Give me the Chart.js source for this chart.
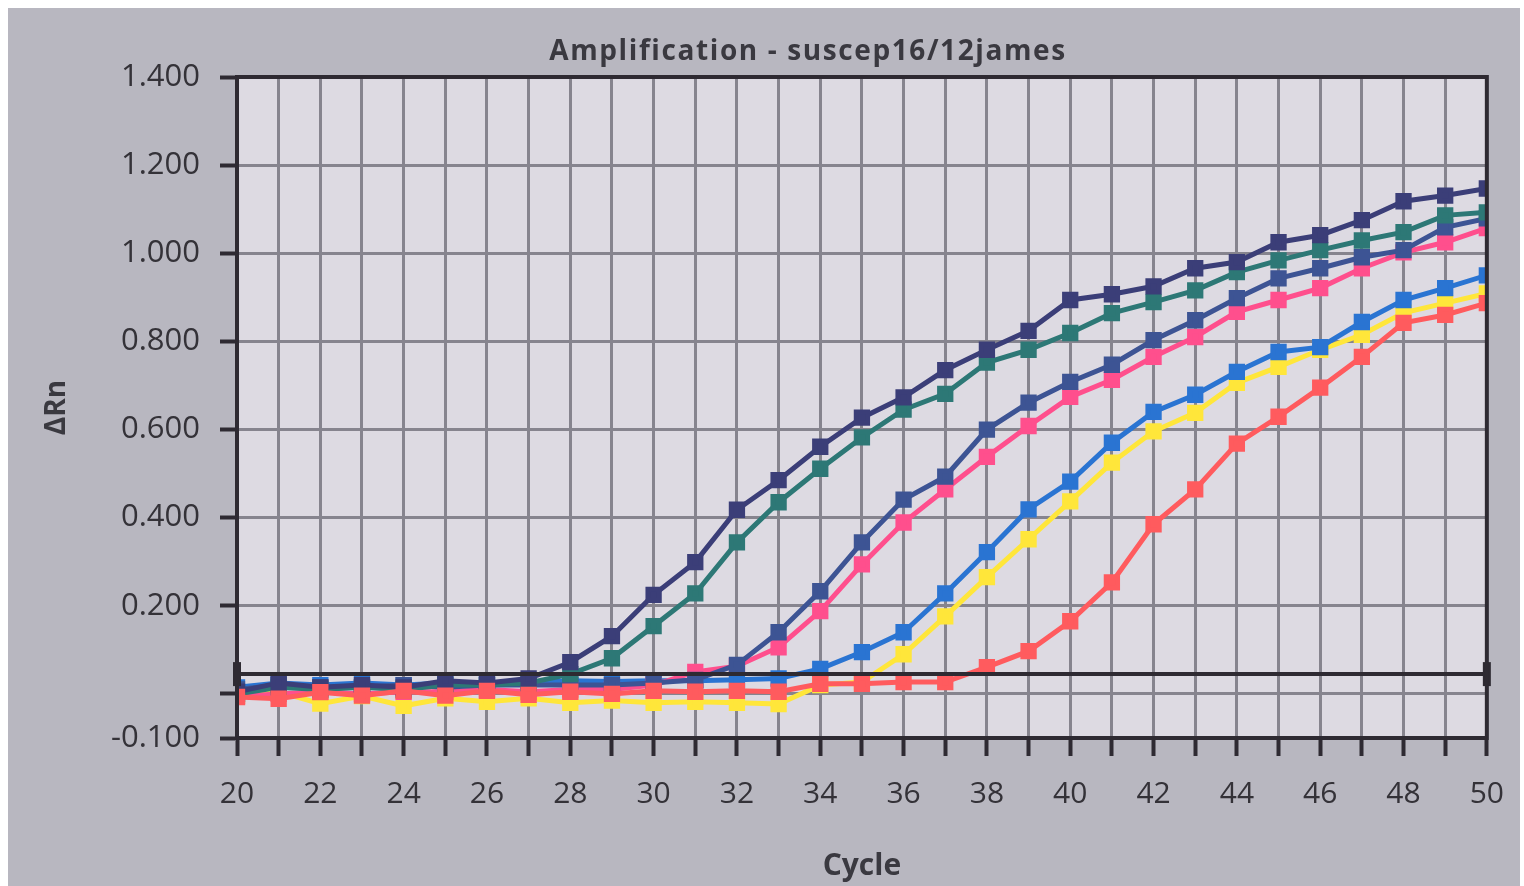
<!DOCTYPE html>
<html>
<head>
<meta charset="utf-8">
<script src="https://cdn.jsdelivr.net/npm/chart.js@4.4.1/dist/chart.umd.min.js"></script>
<style>
  html, body { margin:0; padding:0; background:#ffffff; }
  #panel { position:absolute; left:8px; top:8px; width:1512px; height:878px; background:#b8b7c0; }
  #wrap { position:absolute; left:0; top:0; width:1524px; height:886px; }
</style>
</head>
<body>
<div id="panel"></div>
<div id="wrap"><canvas id="grafico" width="1524" height="886"></canvas></div>
<script>
// ======= Dados =======
const cycles = [20,21,22,23,24,25,26,27,28,29,30,31,32,33,34,35,36,37,38,39,40,41,42,43,44,45,46,47,48,49,50];

const navy   = [0.005,0.025,0.015,0.020,0.015,0.030,0.025,0.035,0.072,0.131,0.225,0.299,0.418,0.485,0.561,0.627,0.673,0.735,0.781,0.824,0.894,0.907,0.925,0.966,0.980,1.025,1.041,1.075,1.118,1.131,1.147];
const teal   = [0.000,0.015,0.010,0.015,0.010,0.020,0.020,0.025,0.045,0.081,0.154,0.228,0.344,0.435,0.511,0.582,0.645,0.681,0.752,0.781,0.819,0.864,0.889,0.916,0.957,0.984,1.007,1.029,1.048,1.086,1.093];
const slate  = [0.010,0.020,0.015,0.015,0.020,0.015,0.020,0.020,0.020,0.020,0.025,0.032,0.066,0.140,0.233,0.344,0.441,0.493,0.600,0.661,0.708,0.747,0.803,0.848,0.898,0.943,0.966,0.991,1.007,1.059,1.079];
const pink   = [-0.005,0.000,0.005,0.000,0.005,0.005,0.010,0.005,0.010,0.010,0.020,0.050,0.063,0.106,0.188,0.294,0.389,0.464,0.538,0.608,0.674,0.713,0.765,0.810,0.867,0.894,0.921,0.966,1.002,1.025,1.057];
const blue   = [0.015,0.025,0.020,0.025,0.020,0.025,0.025,0.025,0.030,0.028,0.030,0.030,0.032,0.035,0.057,0.095,0.140,0.228,0.322,0.419,0.482,0.570,0.640,0.679,0.731,0.776,0.787,0.844,0.894,0.921,0.950];
const yellow = [-0.005,0.005,-0.022,-0.005,-0.027,-0.010,-0.018,-0.010,-0.020,-0.015,-0.020,-0.018,-0.020,-0.023,0.020,0.027,0.090,0.176,0.265,0.351,0.437,0.525,0.596,0.638,0.706,0.742,0.781,0.815,0.865,0.887,0.909];
const red    = [-0.007,-0.011,0.004,-0.004,0.007,-0.004,0.007,-0.002,0.005,0.000,0.007,0.005,0.007,0.005,0.023,0.023,0.027,0.027,0.061,0.097,0.165,0.253,0.385,0.464,0.568,0.629,0.695,0.765,0.842,0.860,0.887];

const threshold = 0.045;
const yLabels = [1.4, 1.2, 1.0, 0.8, 0.6, 0.4, 0.2, -0.1];
const titulo = 'Amplification - suscep16/12james';

// ======= Helpers =======
const pts = arr => cycles.map((c, i) => ({ x: c, y: arr[i] }));

function serie(nome, dados, cor, ordem) {
  return {
    label: nome,
    data: pts(dados),
    borderColor: cor,
    backgroundColor: cor,
    borderWidth: 5,
    pointStyle: 'rect',
    pointRadius: 8,
    pointHoverRadius: 8,
    tension: 0,
    clip: 0,
    order: ordem
  };
}

const fonte = "'Open Sans', 'DejaVu Sans', sans-serif";

// fundo da área do gráfico, moldura e título
const moldura = {
  id: 'moldura',
  beforeDraw(chart) {
    const a = chart.chartArea, ctx = chart.ctx;
    ctx.save();
    ctx.fillStyle = '#dddae2';
    ctx.fillRect(a.left, a.top, a.right - a.left, a.bottom - a.top);
    ctx.restore();
  },
  afterDatasetsDraw(chart) {
    const a = chart.chartArea, ctx = chart.ctx;
    ctx.save();
    ctx.strokeStyle = '#2e2a32';
    ctx.lineWidth = 4;
    ctx.strokeRect(a.left, a.top, a.right - a.left, a.bottom - a.top);
    ctx.restore();
  },
  afterDraw(chart) {
    const ctx = chart.ctx;
    ctx.save();
    ctx.font = "bold 28px " + fonte;
    ctx.fillStyle = '#3a3940';
    ctx.letterSpacing = '1.6px';
    ctx.textAlign = 'center';
    ctx.textBaseline = 'middle';
    ctx.fillText(titulo, 808, 52);
    ctx.restore();
  }
};

new Chart(document.getElementById('grafico'), {
  type: 'line',
  data: {
    datasets: [
      serie('Navy', navy, '#3b3e78', 3),
      serie('Teal', teal, '#2d7876', 4),
      serie('Slate', slate, '#3d5494', 5),
      serie('Pink', pink, '#ff4f8d', 6),
      serie('Blue', blue, '#2a74d2', 7),
      serie('Yellow', yellow, '#ffe63a', 8),
      serie('Red', red, '#ff5b5e', 2),
      {
        label: 'Threshold',
        data: [{ x: cycles[0], y: threshold }, { x: cycles[cycles.length - 1], y: threshold }],
        borderColor: '#2e2a32',
        backgroundColor: '#2e2a32',
        borderWidth: 4,
        pointStyle: 'line',
        rotation: 90,
        pointRadius: 12,
        pointBorderWidth: 8,
        clip: false,
        order: 1
      }
    ]
  },
  options: {
    responsive: false,
    animation: false,
    events: [],
    layout: { padding: { left: 8, right: 34, top: 77, bottom: 0 } },
    plugins: {
      legend: { display: false },
      tooltip: { enabled: false },
      title: { display: false }
    },
    scales: {
      x: {
        type: 'linear',
        min: 20, max: 50,
        afterFit(scale) { scale.height = 148; },
        ticks: {
          stepSize: 1,
          color: '#343238',
          padding: 20,
          font: { family: fonte, size: 30 },
          maxRotation: 0,
          autoSkip: false,
          callback: v => (v % 2 === 0 ? String(v) : '')
        },
        grid: {
          color: '#86848e',
          lineWidth: 3,
          tickLength: 18,
          tickColor: '#2e2a32',
          tickWidth: 4
        },
        border: { display: true, color: '#2e2a32', width: 4 },
        title: {
          display: true,
          text: 'Cycle',
          color: '#3a3940',
          font: { family: fonte, size: 30, weight: 'bold' },
          padding: { top: 0, bottom: 2 }
        }
      },
      y: {
        min: -0.1, max: 1.4,
        afterFit(scale) { scale.width = 229; },
        afterBuildTicks(scale) {
          const t = [-0.1];
          for (let v = 0; v <= 1.4001; v += 0.2) t.push(Math.round(v * 10) / 10);
          scale.ticks = t.map(v => ({ value: v }));
        },
        ticks: {
          color: '#343238',
          padding: 20,
          font: { family: fonte, size: 31 },
          callback: v => (yLabels.some(l => Math.abs(l - v) < 1e-6) ? v.toFixed(3) : '')
        },
        grid: {
          color: '#86848e',
          lineWidth: 3,
          tickLength: 17,
          tickColor: '#2e2a32',
          tickWidth: 4
        },
        border: { display: true, color: '#2e2a32', width: 4 },
        title: {
          display: true,
          text: '\u0394Rn',
          color: '#3a3940',
          font: { family: fonte, size: 28, weight: 'bold' },
          padding: { top: 32, bottom: 10 }
        }
      }
    }
  },
  plugins: [moldura]
});
</script>
</body>
</html>
